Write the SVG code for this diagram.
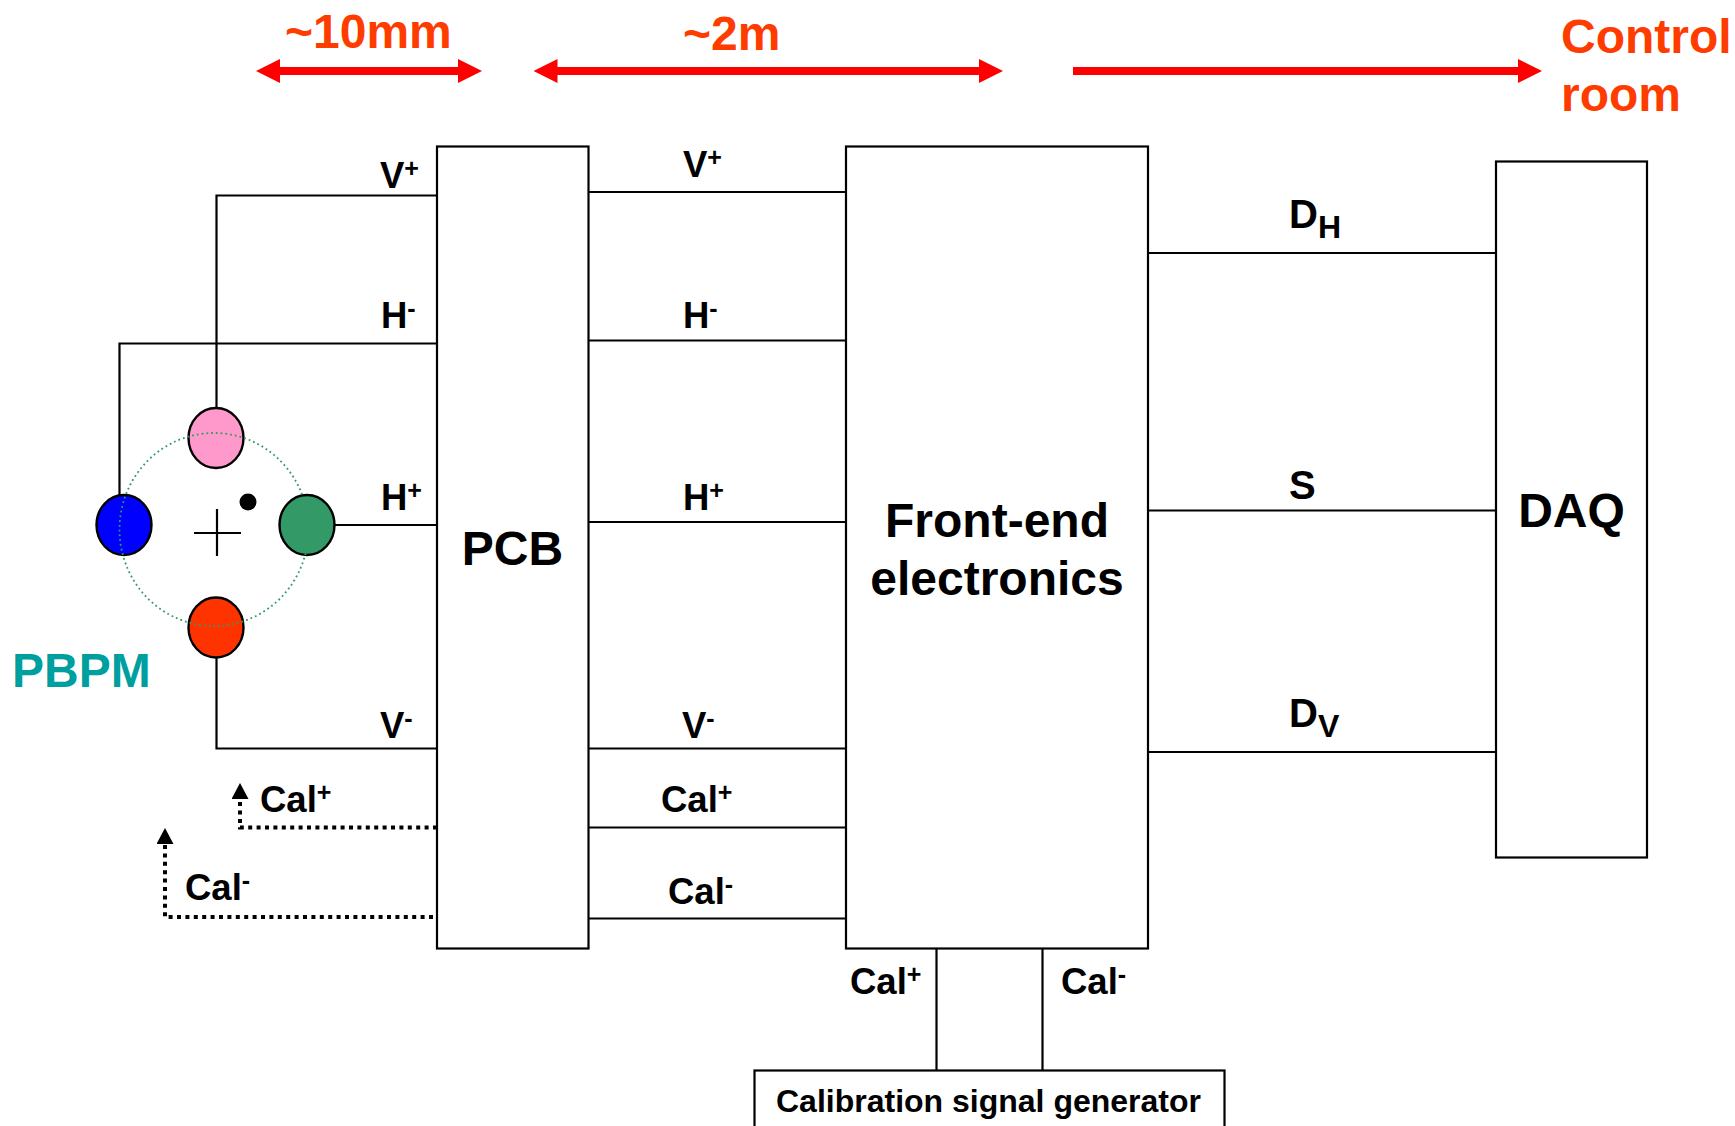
<svg xmlns="http://www.w3.org/2000/svg" width="1735" height="1126" viewBox="0 0 1735 1126">
<style>
text{font-family:"Liberation Sans",Arial,sans-serif;font-weight:700;fill:#000}
.big{font-size:48px}
.lab{font-size:36.500px}
.sup{font-size:25px}
.sub{font-size:32px}
.dd{font-size:40px}
.or{fill:#ff3c00}
.box{fill:#fff;stroke:#000;stroke-width:2.2}
.w{fill:none;stroke:#000;stroke-width:2.2}
.dot{fill:none;stroke:#000;stroke-width:4;stroke-dasharray:4 4.400}
.red{stroke:#f00;stroke-width:8;fill:none}
.det{stroke:#000;stroke-width:2.200;fill:none}
</style>
<defs>
<marker id="rh" markerUnits="userSpaceOnUse" markerWidth="24" markerHeight="24" refX="10" refY="12" orient="auto-start-reverse"><path d="M0 0L24 12L0 24Z" fill="#f00"/></marker>
<marker id="bh" markerUnits="userSpaceOnUse" markerWidth="17" markerHeight="17" refX="1" refY="8.500" orient="auto"><path d="M0 0L16 8.500L0 17Z" fill="#000"/></marker>
</defs>
<g id="connectors">
<path class="w" d="M437 195.500H216.500V410"/>
<path class="w" d="M437 343.500H119.500V497"/>
<path class="w" d="M437 525H333"/>
<path class="w" d="M437 748.500H216.500V655"/>
<path class="w" d="M588 192H846M588 340.500H846M588 522H846M588 748.500H846M588 827.500H846M588 918.500H846"/>
<path class="w" d="M1148 253H1496M1148 510.500H1496M1148 752H1496"/>
<path class="w" d="M936.500 948V1070M1042.500 948V1070"/>
<path class="dot" d="M437 827.500H240V798" marker-end="url(#bh)"/>
<path class="dot" d="M433 917H165V843" marker-end="url(#bh)"/>
<path class="red" d="M270 71H468" marker-start="url(#rh)" marker-end="url(#rh)"/>
<path class="red" d="M547.500 71H989" marker-start="url(#rh)" marker-end="url(#rh)"/>
<path class="red" d="M1073 71H1528" marker-end="url(#rh)"/>
</g>
<g id="pcb"><rect class="box" x="437" y="146.500" width="151.500" height="802"/><text class="big" x="512.500" y="565" text-anchor="middle">PCB</text></g>
<g id="front-end"><rect class="box" x="846" y="146.500" width="302" height="802"/><text class="big" x="997" y="537" text-anchor="middle">Front-end</text><text class="big" x="997" y="595" text-anchor="middle">electronics</text></g>
<g id="daq"><rect class="box" x="1496" y="161.500" width="151" height="696"/><text class="big" x="1571.500" y="527" text-anchor="middle">DAQ</text></g>
<g id="calibration"><rect class="box" x="754.500" y="1070.500" width="470" height="70"/><text x="776" y="1112" style="font-size:32px">Calibration signal generator</text></g>
<g id="pbpm">
<ellipse cx="216" cy="438" rx="27.500" ry="30" fill="#ff99cc" stroke="#000" stroke-width="2.400"/>
<ellipse cx="124" cy="525" rx="27.500" ry="30" fill="#0000ff" stroke="#000" stroke-width="2.400"/>
<ellipse cx="307" cy="525" rx="27.500" ry="30" fill="#339966" stroke="#000" stroke-width="2.400"/>
<ellipse cx="216" cy="627.500" rx="27.500" ry="30" fill="#ff3300" stroke="#000" stroke-width="2.400"/>
<ellipse cx="214" cy="529.500" rx="94.500" ry="96.500" fill="none" stroke="#339966" stroke-width="1.800" stroke-dasharray="1.800 3"/>
<circle cx="248" cy="502" r="8.500" fill="#000"/>
<path class="det" d="M194 533H241M217 509V556"/>
<text class="big" x="12" y="687" style="fill:#009f9f">PBPM</text>
</g>
<g id="labels">
<text class="lab" x="380" y="188">V<tspan class="sup" dy="-11">+</tspan></text>
<text class="lab" x="381" y="328">H<tspan class="sup" dy="-11">-</tspan></text>
<text class="lab" x="381" y="510">H<tspan class="sup" dy="-11">+</tspan></text>
<text class="lab" x="380" y="738">V<tspan class="sup" dy="-11">-</tspan></text>
<text class="lab" x="683" y="177">V<tspan class="sup" dy="-11">+</tspan></text>
<text class="lab" x="683" y="328">H<tspan class="sup" dy="-11">-</tspan></text>
<text class="lab" x="683" y="510">H<tspan class="sup" dy="-11">+</tspan></text>
<text class="lab" x="682" y="738">V<tspan class="sup" dy="-11">-</tspan></text>
<text class="lab" x="260" y="812">Cal<tspan class="sup" dy="-11">+</tspan></text>
<text class="lab" x="185" y="900">Cal<tspan class="sup" dy="-11">-</tspan></text>
<text class="lab" x="661" y="812">Cal<tspan class="sup" dy="-11">+</tspan></text>
<text class="lab" x="668" y="904">Cal<tspan class="sup" dy="-11">-</tspan></text>
<text class="lab" x="850" y="994">Cal<tspan class="sup" dy="-11">+</tspan></text>
<text class="lab" x="1061" y="994">Cal<tspan class="sup" dy="-11">-</tspan></text>
<text class="dd" x="1289" y="228">D<tspan class="sub" dy="10">H</tspan></text>
<text class="dd" x="1289" y="499">S</text>
<text class="dd" x="1289" y="727">D<tspan class="sub" dy="10">V</tspan></text>
<text class="big or" x="285" y="48">~10mm</text>
<text class="big or" x="683" y="50">~2m</text>
<text class="big or" x="1561" y="53">Control</text>
<text class="big or" x="1561" y="111">room</text>
</g>
</svg>
